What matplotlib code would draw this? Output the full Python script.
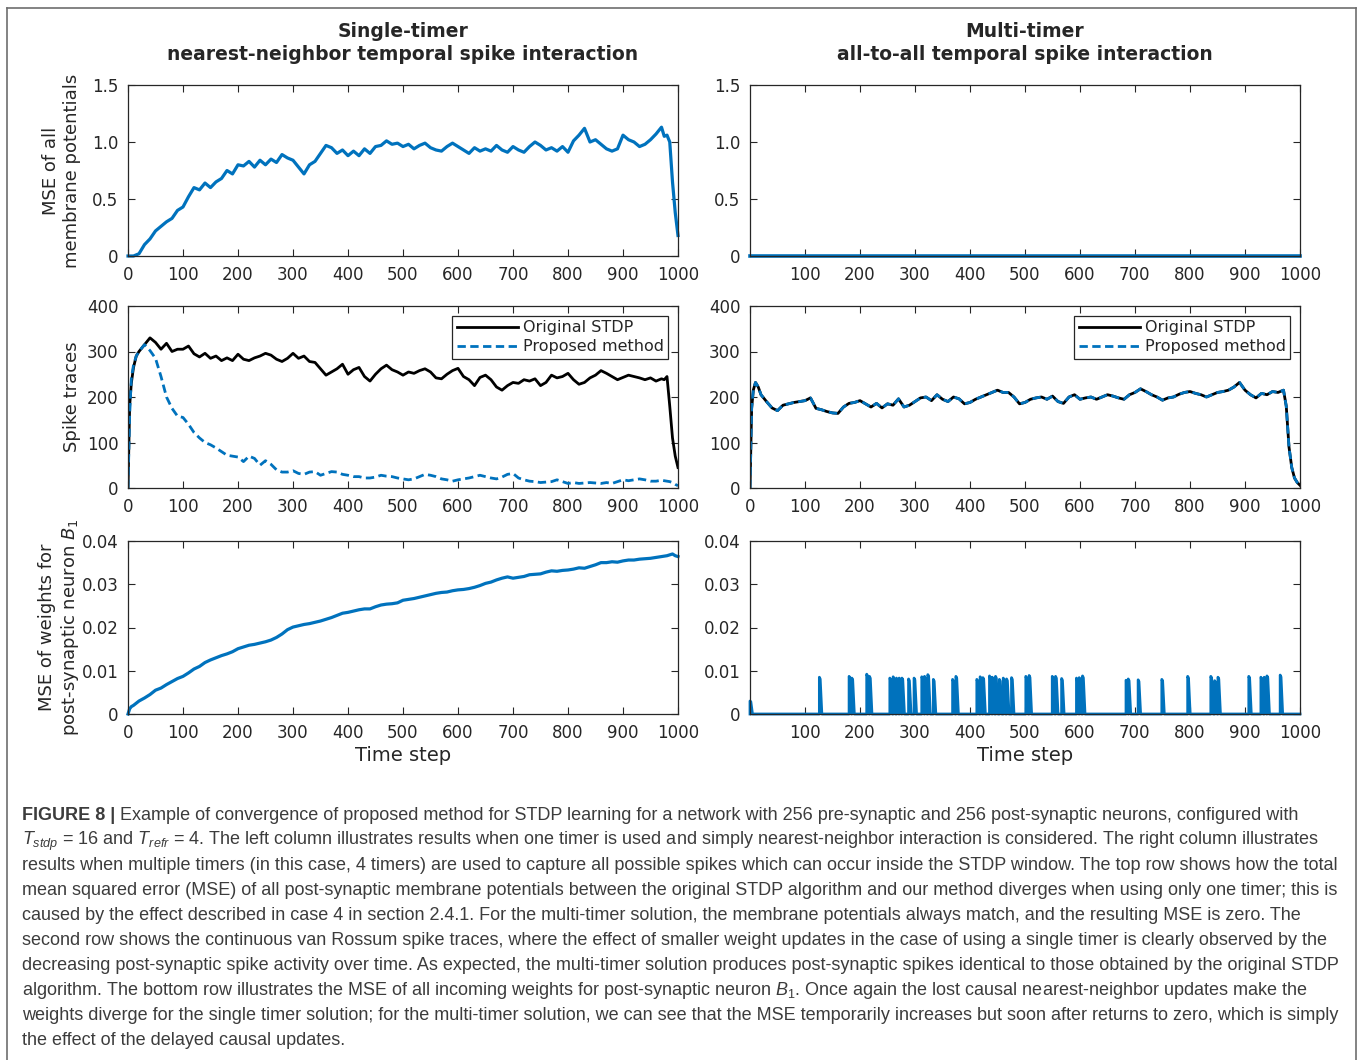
import numpy as np
import matplotlib
matplotlib.use("Agg")
import matplotlib.pyplot as plt
from matplotlib.lines import Line2D

plt.rcParams['font.family'] = 'DejaVu Sans'
plt.rcParams['mathtext.fontset'] = 'dejavusans'
plt.rcParams['mathtext.rm'] = 'Liberation Sans'
plt.rcParams['mathtext.it'] = 'Liberation Sans:italic'
plt.rcParams['mathtext.bf'] = 'Liberation Sans:bold'

BLUE = '#0072BD'
DARK = '#262626'

# sample time steps shared by all curves
steps = [0, 3, 6, 10, 15] + list(range(20, 971, 10)) + [975, 980, 985, 990, 995, 1000]

# MSE of membrane potentials, single timer
mse_single = [0, 0, 0, 0.0, 0.01, 0.02,
              0.1, 0.15, 0.22, 0.26, 0.3, 0.33, 0.4, 0.43,
              0.52, 0.6, 0.58, 0.64, 0.6, 0.65, 0.68, 0.75, 0.72, 0.8,
              0.79, 0.83, 0.78, 0.84, 0.8, 0.85, 0.82, 0.89, 0.86, 0.84,
              0.78, 0.72, 0.8, 0.83, 0.9, 0.97, 0.95, 0.9, 0.93, 0.88,
              0.92, 0.88, 0.94, 0.9, 0.96, 0.97, 1.01, 0.98, 0.99, 0.96,
              0.98, 0.94, 0.97, 0.99, 0.95, 0.93, 0.92, 0.96, 0.99, 0.96,
              0.93, 0.9, 0.95, 0.92, 0.94, 0.92, 0.97, 0.93, 0.91, 0.96,
              0.93, 0.91, 0.96, 1.0, 0.97, 0.93, 0.95, 0.92, 0.96, 0.91,
              1.01, 1.06, 1.12, 1.0, 1.02, 0.98, 0.94, 0.92, 0.94, 1.06,
              1.02, 1.0, 0.96, 0.98, 1.02, 1.07, 1.13,
              1.05, 1.06, 1.0, 0.65, 0.38, 0.18]

# MSE of membrane potentials, multi timer (always zero)
mse_multi_t = [1, 1000]
mse_multi = [0, 0]

# spike traces, single timer
trace_orig = [0, 180, 230, 265, 290, 300,
              315, 330, 320, 305, 318, 300, 305, 305,
              312, 295, 288, 296, 285, 290, 280, 286, 280, 294,
              283, 280, 286, 290, 296, 292, 283, 278, 285, 296,
              285, 290, 278, 276, 262, 248, 255, 262, 272, 250,
              260, 265, 245, 235, 250, 262, 270, 260, 255, 248,
              255, 252, 258, 262, 255, 242, 240, 250, 258, 263,
              245, 238, 225, 243, 248, 238, 222, 215, 225, 232,
              230, 238, 235, 240, 225, 232, 248, 242, 245, 252,
              238, 228, 232, 242, 248, 258, 252, 245, 238, 243,
              248, 245, 242, 238, 242, 235, 240,
              238, 245, 180, 110, 70, 45]
trace_prop = [0, 160, 240, 270, 290, 300,
              315, 302, 285, 245, 200, 175, 158, 155,
              140, 122, 110, 100, 95, 88, 80, 72, 70, 68,
              58, 70, 65, 50, 60, 52, 40, 35, 35, 38,
              32, 30, 35, 36, 28, 32, 36, 35, 30, 28,
              25, 25, 22, 22, 24, 28, 26, 25, 22, 20,
              18, 20, 25, 30, 28, 25, 20, 18, 15, 18,
              20, 22, 25, 28, 25, 22, 20, 24, 30, 32,
              22, 18, 15, 14, 12, 13, 14, 18, 14, 10,
              12, 10, 11, 12, 11, 10, 12, 10, 14, 18,
              16, 18, 20, 18, 15, 15, 17,
              16, 15, 14, 12, 8, 5]

# spike traces, multi timer (original and proposed coincide)
trace_multi = [0, 175, 215, 232, 222, 205,
               190, 176, 170, 182, 185, 188, 190, 192,
               198, 175, 172, 168, 165, 164, 178, 186, 188, 192,
               185, 178, 186, 176, 185, 182, 196, 178, 182, 190,
               198, 200, 192, 205, 195, 190, 200, 196, 185, 188,
               195, 200, 205, 210, 215, 210, 210, 200, 185, 188,
               195, 198, 200, 195, 202, 190, 186, 200, 205, 195,
               198, 200, 195, 200, 205, 202, 198, 195, 205, 210,
               218, 212, 205, 200, 193, 198, 200, 206, 210, 212,
               208, 205, 200, 205, 210, 212, 215, 222, 232, 215,
               205, 198, 208, 205, 212, 210, 215,
               180, 90, 45, 22, 12, 6]

# MSE of weights for B1, single timer
w_single = [0, 0.0012, 0.0017, 0.002, 0.0025, 0.003,
            0.0037, 0.0045, 0.0055, 0.006, 0.0068, 0.0075, 0.0082, 0.0087,
            0.0095, 0.0104, 0.011, 0.0119, 0.0125, 0.013, 0.0135, 0.0139, 0.0144, 0.0151,
            0.0155, 0.0159, 0.0161, 0.0164, 0.0167, 0.0171, 0.0177, 0.0185, 0.0195, 0.0201,
            0.0204, 0.0207, 0.0209, 0.0212, 0.0215, 0.0219, 0.0223, 0.0228, 0.0233, 0.0235,
            0.0238, 0.0241, 0.0243, 0.0243, 0.0248, 0.0252, 0.0254, 0.0255, 0.0257, 0.0263,
            0.0265, 0.0267, 0.027, 0.0273, 0.0276, 0.0279, 0.0281, 0.0282, 0.0285, 0.0287,
            0.0288, 0.029, 0.0293, 0.0297, 0.0302, 0.0305, 0.031, 0.0314, 0.0317, 0.0314,
            0.0316, 0.0318, 0.0322, 0.0323, 0.0324, 0.0328, 0.0331, 0.033, 0.0332, 0.0333,
            0.0335, 0.0338, 0.0337, 0.0341, 0.0345, 0.035, 0.035, 0.0352, 0.0351, 0.0354,
            0.0356, 0.0356, 0.0358, 0.0359, 0.036, 0.0362, 0.0364,
            0.0365, 0.0366, 0.0368, 0.037, 0.0366, 0.0364]

# MSE of weights for B1, multi timer: short bursts on a zero baseline
burst_t = [1, 127, 181, 186, 213, 218, 255, 261, 267, 272, 277, 289, 299,
           313, 318, 324, 334, 369, 375, 413, 419, 424, 436, 441, 447, 454,
           461, 467, 476, 502, 508, 550, 556, 567, 594, 599, 605, 684, 688,
           706, 749, 796, 838, 845, 851, 907, 929, 935, 940, 964]
burst_h = [0.003, 0.0085, 0.0087, 0.0083, 0.0092, 0.0087, 0.0083, 0.0086,
           0.0083, 0.0083, 0.0083, 0.0081, 0.0083, 0.0086, 0.0087, 0.0091,
           0.008, 0.008, 0.0087, 0.008, 0.0086, 0.0084, 0.0088, 0.0085,
           0.0087, 0.008, 0.0083, 0.0081, 0.0084, 0.0087, 0.0089, 0.0087,
           0.0087, 0.0082, 0.0083, 0.0084, 0.0088, 0.0078, 0.0081, 0.0079,
           0.008, 0.0087, 0.0087, 0.0077, 0.0085, 0.0087, 0.0085, 0.0085,
           0.0088, 0.009]

W, H = 1358, 1060
fig = plt.figure(figsize=(W / 100, H / 100), dpi=100)


def px_axes(x0, y0, x1, y1):
    return fig.add_axes([x0 / W, 1 - y1 / H, (x1 - x0) / W, (y1 - y0) / H])


def style(ax):
    for s in ax.spines.values():
        s.set_color(DARK)
        s.set_linewidth(0.9)
    ax.tick_params(direction='in', top=True, right=True, length=5, width=0.8,
                   labelsize=12, colors=DARK, pad=7)
    ax.yaxis.set_label_coords(-0.0855, 0.5)


rows = [(85, 256), (306, 488), (541, 714)]
cols = [(128, 678), (750, 1300)]
axs = [[px_axes(c[0], r[0], c[1], r[1]) for c in cols] for r in rows]

xt_full = list(range(0, 1001, 100))
xt_part = list(range(100, 1001, 100))

# row 1
ax = axs[0][0]
ax.plot(steps, mse_single, color=BLUE, lw=2.3, clip_on=False)
ax.set_xlim(0, 1000)
ax.set_ylim(0, 1.5)
ax.set_yticks([0, 0.5, 1.0, 1.5], ['0', '0.5', '1.0', '1.5'])
ax.set_xticks(xt_full)
ax.set_ylabel('MSE of all\nmembrane potentials', fontsize=13, color=DARK)
style(ax)

ax = axs[0][1]
ax.plot(mse_multi_t, mse_multi, color=BLUE, lw=2.6, clip_on=False)
ax.set_xlim(1, 1000)
ax.set_ylim(0, 1.5)
ax.set_yticks([0, 0.5, 1.0, 1.5], ['0', '0.5', '1.0', '1.5'])
ax.set_xticks(xt_part)
style(ax)

# row 2
for j, (orig, prop) in enumerate([(trace_orig, trace_prop), (trace_multi, trace_multi)]):
    ax = axs[1][j]
    ax.plot(steps, orig, color='black', lw=2.0, label='Original STDP')
    ax.plot(steps, prop, color=BLUE, lw=2.0, ls=(0, (3, 1.6)), label='Proposed method')
    ax.set_xlim(0, 1000)
    ax.set_ylim(0, 400)
    ax.set_yticks([0, 100, 200, 300, 400])
    ax.set_xticks(xt_full)
    leg = ax.legend(loc='upper right', fontsize=11.5, fancybox=False, framealpha=1,
                    edgecolor=DARK, handlelength=3.8, handletextpad=0.3,
                    borderaxespad=0.6, borderpad=0.3, labelspacing=0.25)
    leg.get_frame().set_linewidth(0.9)
    for t in leg.get_texts():
        t.set_color(DARK)
    style(ax)
axs[1][0].set_ylabel('Spike traces', fontsize=13, color=DARK)
style(axs[1][0])

# row 3
ax = axs[2][0]
ax.plot(steps, w_single, color=BLUE, lw=2.3, clip_on=False)
ax.set_xlim(0, 1000)
ax.set_ylim(0, 0.04)
ax.set_yticks([0, 0.01, 0.02, 0.03, 0.04], ['0', '0.01', '0.02', '0.03', '0.04'])
ax.set_xticks(xt_full)
ax.set_ylabel('MSE of weights for\npost-synaptic neuron $B_1$', fontsize=13, color=DARK)
ax.set_xlabel('Time step', fontsize=14, color=DARK, labelpad=3)
style(ax)

ax = axs[2][1]
bt, bv = [1.0], [0.0]
for t0, h in zip(burst_t, burst_h):
    bt += [t0, t0, t0 + 1.5, t0 + 4.5]
    bv += [0, h, h * 0.95, 0]
bt.append(1000)
bv.append(0)
ax.plot(bt, bv, color=BLUE, lw=2.0, clip_on=False)
ax.set_xlim(1, 1000)
ax.set_ylim(0, 0.04)
ax.set_yticks([0, 0.01, 0.02, 0.03, 0.04], ['0', '0.01', '0.02', '0.03', '0.04'])
ax.set_xticks(xt_part)
ax.set_xlabel('Time step', fontsize=14, color=DARK, labelpad=3)
style(ax)

# column titles
fig.text(403 / W, 1 - 43 / H, 'Single-timer\nnearest-neighbor temporal spike interaction',
         ha='center', va='center', fontsize=13.5, fontweight='bold', color=DARK,
         linespacing=1.3)
fig.text(1025 / W, 1 - 43 / H, 'Multi-timer\nall-to-all temporal spike interaction',
         ha='center', va='center', fontsize=13.5, fontweight='bold', color=DARK,
         linespacing=1.3)

# frame around the figure
frame_kw = dict(transform=fig.transFigure, color='#6e6e6e', lw=1.2)
fig.add_artist(Line2D([7 / W, 7 / W], [0, 1 - 8 / H], **frame_kw))
fig.add_artist(Line2D([7 / W, 1356 / W], [1 - 8 / H, 1 - 8 / H], **frame_kw))
fig.add_artist(Line2D([1356 / W, 1356 / W], [1 - 8 / H, 0], **frame_kw))

# caption
cap = fig.add_axes([0, 0, 1, 1])
cap.axis('off')
cap.set_xlim(0, W)
cap.set_ylim(H, 0)
caption_lines = [
    "Example of convergence of proposed method for STDP learning for a network with 256 pre-synaptic and 256 post-synaptic neurons, configured with",
    "$T_{stdp}$ = 16 and $T_{refr}$ = 4. The left column illustrates results when one timer is used and simply nearest-neighbor interaction is considered. The right column illustrates",
    "results when multiple timers (in this case, 4 timers) are used to capture all possible spikes which can occur inside the STDP window. The top row shows how the total",
    "mean squared error (MSE) of all post-synaptic membrane potentials between the original STDP algorithm and our method diverges when using only one timer; this is",
    "caused by the effect described in case 4 in section 2.4.1. For the multi-timer solution, the membrane potentials always match, and the resulting MSE is zero. The",
    "second row shows the continuous van Rossum spike traces, where the effect of smaller weight updates in the case of using a single timer is clearly observed by the",
    "decreasing post-synaptic spike activity over time. As expected, the multi-timer solution produces post-synaptic spikes identical to those obtained by the original STDP",
    "algorithm. The bottom row illustrates the MSE of all incoming weights for post-synaptic neuron $B_1$. Once again the lost causal nearest-neighbor updates make the",
    "weights diverge for the single timer solution; for the multi-timer solution, we can see that the MSE temporarily increases but soon after returns to zero, which is simply",
    "the effect of the delayed causal updates.",
]
cap_kw = dict(fontsize=12.95, family='Liberation Sans', color='#3c3c3c', va='baseline',
              math_fontfamily='custom')
head = cap.text(22, 820, 'FIGURE 8 |', fontweight='bold', **cap_kw)
fig.canvas.draw()
head_end = cap.transData.inverted().transform(head.get_window_extent().p1)[0]
cap.text(head_end, 820, ' ' + caption_lines[0], **cap_kw)
for i, line in enumerate(caption_lines[1:], start=1):
    cap.text(22, 820 + i * 25.0, line, **cap_kw)

fig.savefig('out.png', dpi=100)
